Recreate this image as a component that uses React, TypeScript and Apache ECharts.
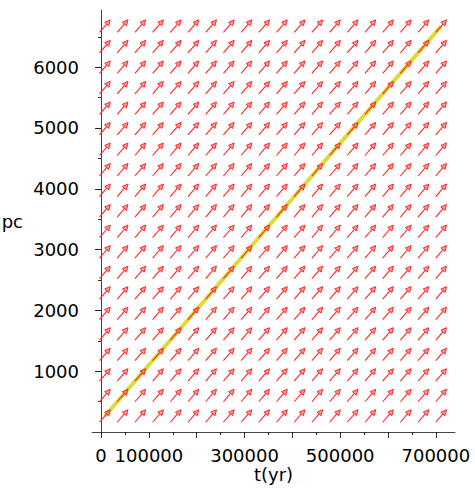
import React, { useEffect, useRef } from 'react';
import * as echarts from 'echarts';

// Direction-field grid (t in years, pc)
const tGrid = [8000, 45000, 82000, 119000, 156000, 193000, 230000, 267000, 304000, 341000, 378000, 415000, 452000, 489000, 526000, 563000, 600000, 637000, 674000, 711000];
const pcGrid = [263, 600, 938, 1275, 1613, 1950, 2288, 2625, 2963, 3300, 3638, 3975, 4313, 4650, 4988, 5325, 5663, 6000, 6338, 6675];

// Solution curve endpoints
const solutionT = [8000, 711000];
const solutionPc = [263, 6675];

// Ticks and labels
const xMajorTicks = [0, 100000, 200000, 300000, 400000, 500000, 600000, 700000];
const xMinorTicks = [50000, 150000, 250000, 350000, 450000, 550000, 650000];
const xTickLabels = [0, 100000, 300000, 500000, 700000];
const yMajorTicks = [1000, 2000, 3000, 4000, 5000, 6000];
const yMinorTicks = [500, 1500, 2500, 3500, 4500, 5500, 6500];
const yTickLabels = [1000, 2000, 3000, 4000, 5000, 6000];

const X_MIN = -19000;
const X_MAX = 740000;
const Y_MIN = 0;
const Y_MAX = 6940;

const FONT = 'DejaVu Sans';

export default function App() {
  const ref = useRef<HTMLDivElement>(null);

  useEffect(() => {
    if (!ref.current) return;
    const chart = echarts.init(ref.current, undefined, { renderer: 'svg' });
    const slope = (solutionPc[1] - solutionPc[0]) / (solutionT[1] - solutionT[0]);
    const arrows: number[][] = [];
    tGrid.forEach((t) => pcGrid.forEach((p) => arrows.push([t, p])));
    const red = '#ff2626';

    chart.setOption({
      animation: false,
      grid: { left: 92, right: 20, top: 10, bottom: 57, containLabel: false, outerBoundsMode: 'none' },
      xAxis: [
        {
          type: 'value', min: X_MIN, max: X_MAX, position: 'bottom',
          axisLine: { onZero: false, lineStyle: { color: '#444', width: 1 } },
          axisTick: { customValues: xMajorTicks, length: 6, lineStyle: { color: '#222' } },
          axisLabel: {
            customValues: xTickLabels, margin: 14, hideOverlap: false,
            formatter: (v: number) => String(v),
            fontSize: 18, lineHeight: 18, fontFamily: FONT, color: '#000',
          },
          splitLine: { show: false },
          name: 't(yr)', nameLocation: 'middle', nameGap: 33, nameMoveOverlap: false,
          nameTextStyle: { fontSize: 18, lineHeight: 18, fontFamily: FONT, color: '#000' },
        },
        {
          type: 'value', min: X_MIN, max: X_MAX, position: 'bottom',
          axisLine: { show: false, onZero: false },
          axisTick: { customValues: xMinorTicks, length: 3, lineStyle: { color: '#222' } },
          axisLabel: { show: false },
          splitLine: { show: false },
        },
      ],
      yAxis: [
        {
          type: 'value', min: Y_MIN, max: Y_MAX, position: 'left',
          axisLine: { show: true, onZero: true, onZeroAxisIndex: 0, lineStyle: { color: '#444', width: 1 } },
          axisTick: { show: true, customValues: yMajorTicks, length: 6, lineStyle: { color: '#222' } },
          axisLabel: {
            customValues: yTickLabels, margin: 13,
            formatter: (v: number) => String(v),
            fontSize: 18, fontFamily: FONT, color: '#000',
          },
          splitLine: { show: false },
          name: 'pc', nameLocation: 'middle', nameGap: 69, nameRotate: 0, nameMoveOverlap: false,
          nameTextStyle: { fontSize: 18, fontFamily: FONT, color: '#000' },
        },
        {
          type: 'value', min: Y_MIN, max: Y_MAX, position: 'left',
          axisLine: { show: false, onZero: true, onZeroAxisIndex: 0 },
          axisTick: { show: true, customValues: yMinorTicks, length: 3, lineStyle: { color: '#222' } },
          axisLabel: { show: false },
          splitLine: { show: false },
        },
      ],
      series: [
        {
          type: 'line',
          xAxisIndex: 0, yAxisIndex: 0,
          data: solutionT.map((t, i) => [t, solutionPc[i]]),
          symbol: 'none',
          lineStyle: { color: '#dcdc38', width: 4 },
          z: 2,
        },
        {
          type: 'custom',
          xAxisIndex: 0, yAxisIndex: 0,
          data: arrows,
          z: 3,
          clip: false,
          renderItem: (params: any, api: any) => {
            const t = api.value(0);
            const p = api.value(1);
            const c = api.coord([t, p]);
            const c2 = api.coord([t + 10000, p + slope * 10000]);
            let dx = c2[0] - c[0];
            let dy = c2[1] - c[1];
            const n = Math.hypot(dx, dy) || 1;
            dx /= n; dy /= n;
            const L = 16.5, hl = 5.5, hw = 2.7;
            const tail = [c[0] - dx * L / 2, c[1] - dy * L / 2];
            const tip = [c[0] + dx * L / 2, c[1] + dy * L / 2];
            const base = [tip[0] - dx * hl, tip[1] - dy * hl];
            const nx = -dy, ny = dx;
            return {
              type: 'group',
              children: [
                { type: 'line', shape: { x1: tail[0], y1: tail[1], x2: base[0], y2: base[1] }, style: { stroke: red, lineWidth: 1.1 } },
                {
                  type: 'polygon',
                  shape: { points: [tip, [base[0] + nx * hw, base[1] + ny * hw], [base[0] - nx * hw, base[1] - ny * hw]] },
                  style: { fill: 'rgba(255,90,90,0.6)', stroke: red, lineWidth: 1 },
                },
              ],
            };
          },
        },
      ],
    });
    return () => chart.dispose();
  }, []);

  return <div ref={ref} style={{ position: 'fixed', left: 0, top: 0, width: 475, height: 489, background: '#fff' }} />;
}
